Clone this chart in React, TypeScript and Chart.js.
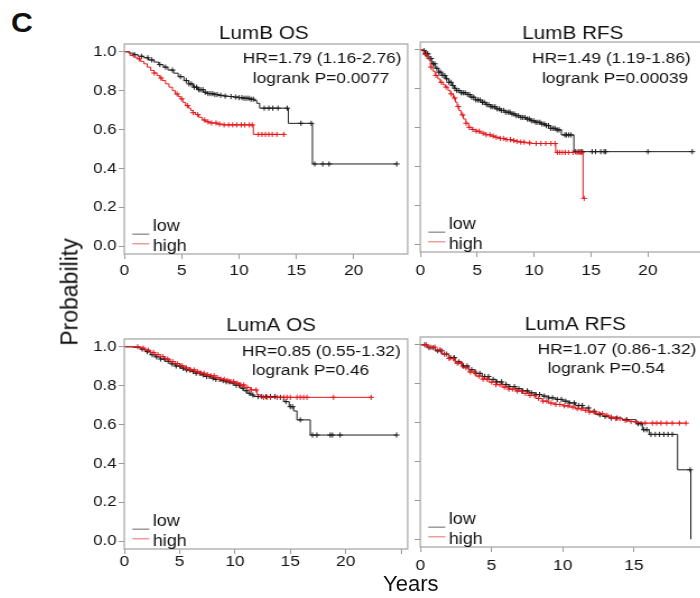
import React, { useEffect, useRef } from 'react';
import { Chart, registerables } from 'chart.js';

Chart.register(...registerables);

type Pt = [number, number];

// ---------- DATA (time in years, survival probability) ----------
const yTicks = [0, 0.2, 0.4, 0.6, 0.8, 1.0];
const legendLabels = ['low', 'high'];

// LumB OS
const lumbOsLow: Pt[] = [[0,1],[0.4,0.993],[0.8,0.985],[1.2,0.977],[1.7,0.969],[2.1,0.958],[2.6,0.947],[3.0,0.934],[3.4,0.921],[3.8,0.906],[4.3,0.89],[4.7,0.872],[5.2,0.852],[5.6,0.835],[6.0,0.818],[6.4,0.805],[6.9,0.792],[7.3,0.785],[7.8,0.78],[8.2,0.776],[8.7,0.772],[9.1,0.77],[9.5,0.767],[10.0,0.764],[10.4,0.761],[10.9,0.756],[11.3,0.749],[11.55,0.735],[11.8,0.71],[14.3,0.632],[16.4,0.423],[23.75,0.423]];
const lumbOsHigh: Pt[] = [[0,1],[0.5,0.981],[0.8,0.972],[1.1,0.964],[1.4,0.951],[1.7,0.938],[2.0,0.921],[2.3,0.904],[2.6,0.891],[2.85,0.878],[3.1,0.865],[3.3,0.852],[3.6,0.835],[3.9,0.818],[4.2,0.8],[4.45,0.783],[4.7,0.77],[4.9,0.758],[5.1,0.74],[5.35,0.723],[5.6,0.71],[5.8,0.698],[6.0,0.687],[6.2,0.677],[6.5,0.663],[6.8,0.649],[7.1,0.64],[7.4,0.634],[8.1,0.628],[8.6,0.624],[11.25,0.575],[13.9,0.575]];
const lumbOsLowCens = [0.9,1.5,2.05,2.4,3.1,3.6,4.2,4.9,5.4,5.65,5.85,6.1,6.3,6.5,6.65,6.85,7.05,7.3,7.5,7.7,7.9,8.1,8.4,8.8,9.3,9.7,10.0,10.25,10.45,10.65,10.85,11.05,11.25,12.2,12.6,12.95,13.4,14.2,15.4,16.3,16.6,17.3,17.85,23.75];
const lumbOsHighCens = [1.3,2.6,3.2,4.6,5.0,5.5,6.0,6.4,7.0,7.3,7.6,8.0,8.3,8.7,9.1,9.45,9.8,10.2,10.5,10.9,11.15,11.7,12.0,12.3,12.6,12.9,13.3,13.9];

// LumB RFS
const lumbRfsLow: Pt[] = [[0,1],[0.2,0.996],[0.45,0.979],[0.7,0.955],[1.0,0.928],[1.3,0.905],[1.6,0.885],[1.9,0.868],[2.2,0.851],[2.5,0.833],[2.8,0.816],[3.0,0.802],[3.2,0.79],[3.6,0.779],[4.0,0.77],[4.4,0.756],[4.85,0.742],[5.3,0.73],[5.75,0.718],[6.2,0.707],[6.6,0.696],[7.0,0.688],[7.5,0.679],[7.9,0.67],[8.4,0.661],[8.8,0.652],[9.25,0.644],[9.7,0.635],[10.1,0.627],[10.6,0.618],[11.0,0.61],[11.45,0.596],[11.9,0.588],[12.4,0.562],[13.5,0.476],[23.9,0.476]];
const lumbRfsHigh: Pt[] = [[0,1],[0.3,0.975],[0.6,0.954],[0.9,0.911],[1.1,0.89],[1.3,0.868],[1.55,0.85],[1.75,0.833],[2.0,0.82],[2.2,0.808],[2.45,0.79],[2.65,0.773],[2.9,0.752],[3.1,0.73],[3.25,0.708],[3.4,0.687],[3.6,0.665],[3.8,0.644],[4.0,0.622],[4.25,0.601],[4.55,0.59],[4.85,0.581],[5.3,0.571],[5.75,0.563],[6.2,0.556],[6.6,0.55],[7.0,0.544],[7.5,0.538],[8.0,0.533],[8.4,0.529],[8.8,0.525],[9.25,0.521],[9.8,0.518],[11.9,0.472],[14.3,0.236],[14.4,0.236]];
const lumbRfsLowCens = [0.32,0.45,0.58,0.66,0.81,0.95,1.12,1.27,1.46,1.63,1.78,1.97,2.15,2.31,2.52,2.68,2.86,3.05,3.22,3.41,3.6,3.77,3.95,4.16,4.33,4.52,4.7,4.88,5.07,5.25,5.46,5.62,5.83,6.01,6.2,6.38,6.57,6.75,6.96,7.12,7.33,7.5,7.71,7.88,8.07,8.26,8.44,8.63,8.85,9.02,9.2,9.41,9.58,9.77,9.96,10.15,10.33,10.52,10.7,10.91,11.08,11.27,11.46,11.65,11.83,12.02,12.2,12.7,12.85,13.05,13.25,13.65,13.9,14.1,14.25,15.1,15.4,15.86,16.15,16.3,20.0,23.9];
const lumbRfsHighCens = [0.52,0.93,1.38,1.84,2.27,2.71,3.02,3.33,3.72,4.03,4.31,4.62,4.93,5.18,5.52,5.79,6.12,6.41,6.68,7.03,7.31,7.58,7.92,8.22,8.49,8.83,9.12,9.61,10.18,10.6,11.02,11.48,11.84,12.05,12.26,12.5,12.74,13.02,13.41,13.78,14.0,14.18,14.4];

// LumA OS
const lumaOsLow: Pt[] = [[0,1],[0.8,0.997],[1.45,0.988],[1.9,0.975],[2.35,0.959],[2.8,0.948],[3.26,0.937],[3.7,0.925],[4.16,0.912],[4.6,0.901],[5.07,0.89],[5.5,0.881],[5.97,0.873],[6.4,0.864],[6.88,0.856],[7.3,0.847],[7.78,0.839],[8.2,0.832],[8.69,0.826],[9.1,0.82],[9.59,0.813],[10.0,0.802],[10.5,0.787],[10.8,0.774],[11.1,0.761],[11.4,0.752],[11.7,0.744],[13.8,0.74],[14.4,0.718],[14.9,0.692],[15.3,0.67],[15.6,0.624],[16.8,0.546],[24.6,0.546]];
const lumaOsHigh: Pt[] = [[0,1],[1.45,0.993],[1.9,0.982],[2.35,0.971],[2.8,0.96],[3.26,0.95],[3.7,0.937],[4.16,0.924],[4.6,0.913],[5.07,0.902],[5.5,0.891],[5.97,0.881],[6.4,0.872],[6.88,0.864],[7.3,0.857],[7.78,0.851],[8.2,0.842],[8.69,0.833],[9.1,0.827],[9.59,0.821],[10.0,0.813],[10.5,0.804],[10.9,0.791],[11.4,0.778],[12.0,0.753],[12.3,0.74],[22.3,0.74]];
const lumaOsLowCens = [1.62,2.08,2.53,2.91,3.28,3.64,3.97,4.33,4.68,5.02,5.31,5.63,5.9,6.22,6.49,6.81,7.12,7.43,7.69,8.02,8.28,8.61,8.93,9.22,9.48,9.83,10.12,10.38,10.71,11.03,11.32,11.62,12.1,12.42,12.8,13.2,13.6,14.1,14.6,15.0,15.2,15.9,17.0,17.4,18.6,18.8,19.5,24.6];
const lumaOsHighCens = [1.21,1.72,2.18,2.63,3.04,3.48,3.92,4.38,4.79,5.23,5.61,5.98,6.31,6.62,6.93,7.21,7.52,7.83,8.12,8.41,8.72,9.03,9.31,9.62,9.88,10.21,10.52,10.79,11.12,11.48,11.91,12.6,12.9,13.2,13.8,14.4,14.7,15.0,15.6,15.9,16.2,16.5,18.9,22.3];

// LumA RFS
const lumaRfsLow: Pt[] = [[0,1],[0.5,0.985],[1.06,0.969],[1.5,0.952],[2.0,0.934],[2.45,0.912],[2.93,0.891],[3.4,0.872],[3.87,0.853],[4.35,0.837],[4.81,0.822],[5.3,0.809],[5.75,0.796],[6.2,0.785],[6.69,0.774],[7.15,0.763],[7.63,0.753],[8.1,0.744],[8.57,0.736],[9.0,0.727],[9.51,0.719],[10.0,0.71],[10.44,0.701],[10.9,0.688],[11.39,0.675],[11.85,0.658],[12.32,0.641],[12.8,0.632],[13.26,0.623],[14.2,0.615],[15.14,0.594],[15.6,0.563],[16.08,0.539],[18.07,0.357],[19.0,0.0]];
const lumaRfsHigh: Pt[] = [[0,1],[0.5,0.988],[1.06,0.974],[1.5,0.952],[2.0,0.929],[2.45,0.905],[2.93,0.882],[3.4,0.86],[3.87,0.839],[4.35,0.823],[4.81,0.808],[5.3,0.795],[5.75,0.782],[6.2,0.772],[6.69,0.762],[7.15,0.75],[7.63,0.739],[8.1,0.724],[8.57,0.71],[9.0,0.7],[9.51,0.693],[10.0,0.686],[10.44,0.68],[10.9,0.671],[11.39,0.663],[11.85,0.654],[12.32,0.646],[12.8,0.637],[13.26,0.628],[13.7,0.62],[14.2,0.611],[14.7,0.605],[15.14,0.601],[15.6,0.597],[18.66,0.597]];
const lumaRfsLowCens = [0.31,0.62,0.88,1.21,1.49,1.83,2.12,2.38,2.71,3.02,3.29,3.61,3.92,4.18,4.52,4.79,5.12,5.38,5.71,6.02,6.28,6.61,6.92,7.19,7.52,7.81,8.12,8.38,8.71,9.02,9.29,9.62,9.91,10.21,10.48,10.81,11.12,11.38,11.82,12.21,12.62,12.98,13.41,13.82,14.5,15.3,15.5,15.7,15.9,16.2,16.5,16.8,17.1,17.4,17.7,18.95];
const lumaRfsHighCens = [0.41,0.72,1.02,1.38,1.69,2.03,2.32,2.61,2.88,3.21,3.52,3.79,4.12,4.41,4.68,5.02,5.31,5.59,5.91,6.22,6.48,6.81,7.12,7.39,7.71,8.02,8.31,8.62,8.88,9.19,9.52,9.81,10.12,10.38,10.71,11.02,11.31,11.62,11.88,12.21,12.52,12.79,13.12,13.41,13.72,14.02,14.4,14.8,15.2,15.8,16.3,16.6,16.9,17.3,17.7,18.2,18.66];

// ---------- LAYOUT / STYLE ----------
const FONT = '"Liberation Sans", Arial, Helvetica, sans-serif';
const K = 1.12; // horizontal stretch of the reference figure
const YW = 44;
const PT = 40;
const PB = 30;
const PR = 5;
const AW = 253;
const AH = 210;
const CW = YW + AW + PR;
const CH = PT + AH + PB;
const BLACK = '#1c1c1c';
const RED = '#e5161b';

interface PanelCfg {
  title: string;
  hr: string;
  p: string;
  low: Pt[];
  high: Pt[];
  lowC: number[];
  highC: number[];
  aL: number;
  aT: number;
  xMax: number;
  xPad: number;
  yLabels: boolean;
  titleX: number;
  titleBase: number;
  hrX: number;
  hrBase: number;
}

const panels: PanelCfg[] = [
  { title: 'LumB OS', hr: 'HR=1.79 (1.16-2.76)', p: 'logrank P=0.0077', low: lumbOsLow, high: lumbOsHigh, lowC: lumbOsLowCens, highC: lumbOsHighCens, aL: 124, aT: 44, xMax: 24.7, xPad: 2, yLabels: true, titleX: 263.5, titleBase: 38.5, hrX: 242.5, hrBase: 63.3 },
  { title: 'LumB RFS', hr: 'HR=1.49 (1.19-1.86)', p: 'logrank P=0.00039', low: lumbRfsLow, high: lumbRfsHigh, lowC: lumbRfsLowCens, highC: lumbRfsHighCens, aL: 420, aT: 42, xMax: 24.9, xPad: 4, yLabels: false, titleX: 572.5, titleBase: 38.5, hrX: 531.7, hrBase: 63.3 },
  { title: 'LumA OS', hr: 'HR=0.85 (0.55-1.32)', p: 'logrank P=0.46', low: lumaOsLow, high: lumaOsHigh, lowC: lumaOsLowCens, highC: lumaOsHighCens, aL: 124, aT: 339, xMax: 25.6, xPad: -2, yLabels: true, titleX: 270.8, titleBase: 330.7, hrX: 241.7, hrBase: 355.5 },
  { title: 'LumA RFS', hr: 'HR=1.07 (0.86-1.32)', p: 'logrank P=0.54', low: lumaRfsLow, high: lumaRfsHigh, lowC: lumaRfsLowCens, highC: lumaRfsHighCens, aL: 420, aT: 337, xMax: 19.9, xPad: 4.5, yLabels: false, titleX: 575, titleBase: 330, hrX: 537.3, hrBase: 353.5 },
];

function stepAt(curve: Pt[], t: number): number {
  let s = curve[0][1];
  for (const [ti, si] of curve) {
    if (ti <= t) s = si;
    else break;
  }
  return s;
}

function Panel({ cfg }: { cfg: PanelCfg }) {
  const ref = useRef<HTMLCanvasElement>(null);
  const canvasLeft = cfg.aL - YW * K;
  const canvasTop = cfg.aT - PT;

  useEffect(() => {
    if (!ref.current) return;
    const toX = (px: number) => (px - canvasLeft) / K;
    const toY = (py: number) => py - canvasTop;

    const deco = {
      id: 'deco',
      afterDraw(chart: any) {
        const ctx: CanvasRenderingContext2D = chart.ctx;
        const ca = chart.chartArea;
        ctx.save();
        ctx.strokeStyle = '#a9a9a9';
        ctx.lineWidth = 1.3;
        ctx.strokeRect(ca.left, ca.top, ca.right - ca.left, ca.bottom - ca.top);

        ctx.fillStyle = '#111';
        ctx.textBaseline = 'alphabetic';
        ctx.textAlign = 'center';
        ctx.font = `18.5px ${FONT}`;
        ctx.fillText(cfg.title, toX(cfg.titleX), toY(cfg.titleBase));

        ctx.textAlign = 'left';
        ctx.font = `15.5px ${FONT}`;
        ctx.fillText(cfg.hr, toX(cfg.hrX), toY(cfg.hrBase));
        ctx.fillText(cfg.p, toX(cfg.hrX + 10), toY(cfg.hrBase + 19.5));

        const y0 = chart.scales.y.getPixelForValue(0);
        const lx0 = ca.left + 8 / K;
        const lx1 = ca.left + 25 / K;
        const tx = ca.left + 28.5 / K;
        ctx.lineWidth = 1.5;
        ctx.strokeStyle = '#9a9a9a';
        ctx.beginPath();
        ctx.moveTo(lx0, y0 - 12);
        ctx.lineTo(lx1, y0 - 12);
        ctx.stroke();
        ctx.strokeStyle = '#f19a9a';
        ctx.beginPath();
        ctx.moveTo(lx0, y0 - 2.5);
        ctx.lineTo(lx1, y0 - 2.5);
        ctx.stroke();
        ctx.font = `16px ${FONT}`;
        ctx.fillText(legendLabels[0], tx, y0 - 15);
        ctx.fillText(legendLabels[1], tx, y0 + 4.5);
        ctx.restore();
      },
    };

    const gridOpts = {
      display: true,
      drawOnChartArea: false,
      drawTicks: true,
      tickLength: 5,
      tickColor: '#9a9a9a',
      tickWidth: 1,
    };

    const censor = (c: number[], curve: Pt[], color: string) => ({
      data: c.map((t) => ({ x: t, y: stepAt(curve, t) })),
      showLine: false,
      pointStyle: 'cross',
      pointRadius: 2.6,
      pointBorderWidth: 1,
      pointBorderColor: color,
      pointBackgroundColor: color,
      borderColor: color,
    });
    const curveDs = (curve: Pt[], color: string) => ({
      data: curve.map(([x, y]) => ({ x, y })),
      stepped: 'before',
      borderColor: color,
      borderWidth: 1,
      pointRadius: 0,
      fill: false,
    });

    const chart = new Chart(ref.current, {
      type: 'line',
      data: {
        datasets: [
          censor(cfg.highC, cfg.high, RED),
          curveDs(cfg.high, RED),
          censor(cfg.lowC, cfg.low, BLACK),
          curveDs(cfg.low, BLACK),
        ] as any,
      },
      options: {
        animation: false,
        responsive: false,
        events: [],
        layout: { padding: { top: PT, left: 0, right: PR, bottom: 0 } },
        plugins: {
          legend: { display: false },
          tooltip: { enabled: false },
          title: { display: false },
        },
        scales: {
          x: {
            type: 'linear',
            min: 0,
            max: cfg.xMax,
            afterFit: (s: any) => {
              s.height = PB;
            },
            border: { display: false },
            grid: gridOpts,
            ticks: {
              stepSize: 5,
              includeBounds: false,
              autoSkip: false,
              maxRotation: 0,
              padding: cfg.xPad,
              color: '#111',
              font: { family: FONT, size: 15.5 },
              callback: (v: any) => (Number(v) <= 20 ? String(v) : ''),
            },
          },
          y: {
            type: 'linear',
            min: -0.04,
            max: 1.04,
            afterFit: (s: any) => {
              s.width = YW;
            },
            border: { display: false },
            grid: gridOpts,
            afterBuildTicks: (s: any) => {
              s.ticks = yTicks.map((v) => ({ value: v }));
            },
            ticks: {
              padding: 2,
              color: '#111',
              font: { family: FONT, size: 15 },
              callback: (v: any) => (cfg.yLabels ? Number(v).toFixed(1) : ''),
            },
          },
        },
      } as any,
      plugins: [deco],
    });
    return () => chart.destroy();
  }, [cfg]);

  return (
    <div
      style={{
        position: 'absolute',
        left: canvasLeft,
        top: canvasTop,
        width: CW,
        height: CH,
        transform: `scaleX(${K})`,
        transformOrigin: '0 0',
      }}
    >
      <canvas ref={ref} width={CW} height={CH} style={{ width: CW, height: CH, display: 'block' }} />
    </div>
  );
}

export default function App() {
  return (
    <div
      style={{
        position: 'absolute',
        left: 0,
        top: 0,
        width: 700,
        height: 598,
        overflow: 'hidden',
        background: '#fff',
        fontFamily: FONT,
        color: '#111',
      }}
    >
      <div
        style={{
          position: 'absolute',
          left: 11,
          top: 10.4,
          fontSize: 27,
          lineHeight: '27px',
          fontWeight: 'bold',
          transform: 'scaleX(1.12)',
          transformOrigin: '0 0',
        }}
      >
        C
      </div>
      {panels.map((p) => (
        <Panel key={p.title} cfg={p} />
      ))}
      <div
        style={{
          position: 'absolute',
          left: 70.3,
          top: 291.7,
          fontSize: 23,
          lineHeight: '23px',
          whiteSpace: 'nowrap',
          transform: 'translate(-50%, -50%) rotate(-90deg)',
        }}
      >
        Probability
      </div>
      <div
        style={{
          position: 'absolute',
          left: 360.8,
          top: 573.1,
          width: 100,
          textAlign: 'center',
          fontSize: 22,
          lineHeight: '22px',
        }}
      >
        Years
      </div>
    </div>
  );
}
